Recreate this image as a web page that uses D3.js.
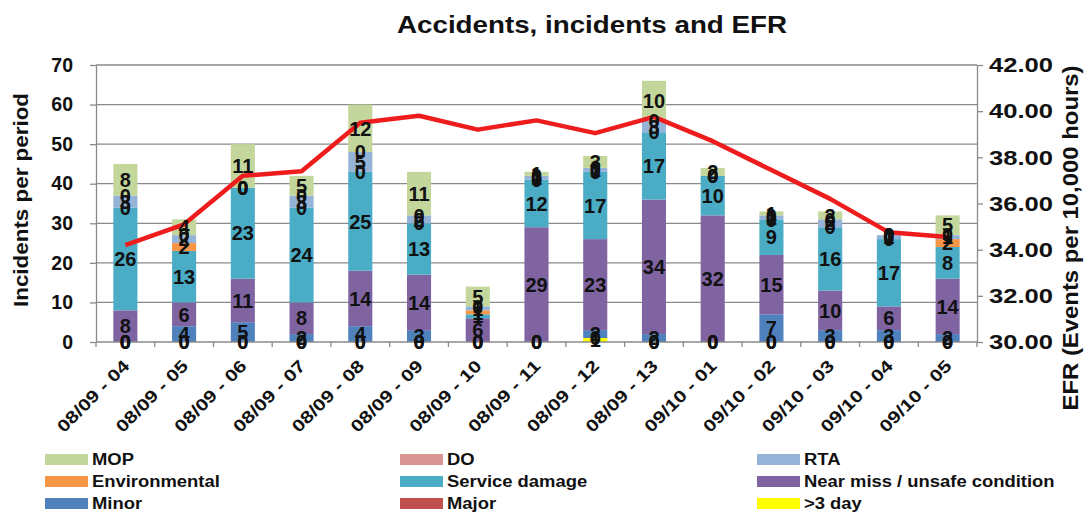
<!DOCTYPE html>
<html>
<head>
<meta charset="utf-8">
<script src="https://cdn.jsdelivr.net/npm/d3@7"></script>
<style>
  html, body { margin: 0; padding: 0; background: #ffffff; }
  svg { display: block; }
  text { font-family: "Liberation Sans", Arial, sans-serif; font-weight: bold; fill: #111; }
</style>
</head>
<body>
<svg id="chart" width="1086" height="519"></svg>
<script>
// ---------------- DATA ----------------
const categories = ["08/09 - 04", "08/09 - 05", "08/09 - 06", "08/09 - 07", "08/09 - 08",
  "08/09 - 09", "08/09 - 10", "08/09 - 11", "08/09 - 12", "08/09 - 13",
  "09/10 - 01", "09/10 - 02", "09/10 - 03", "09/10 - 04", "09/10 - 05"];

// stacked series, bottom to top
const threeDay      = [0, 0, 0, 0, 0, 0, 0, 0, 1, 0, 0, 0, 0, 0, 0];
const major         = [0, 0, 0, 0, 0, 0, 0, 0, 0, 0, 0, 0, 0, 0, 0];
const minor         = [0, 4, 5, 2, 4, 3, 0, 0, 2, 2, 0, 7, 3, 3, 2];
const nearMiss      = [8, 6, 11, 8, 14, 14, 6, 29, 23, 34, 32, 15, 10, 6, 14];
const serviceDamage = [26, 13, 23, 24, 25, 13, 1, 12, 17, 17, 10, 9, 16, 17, 8];
const environmental = [0, 2, 0, 0, 0, 0, 1, 0, 0, 0, 0, 0, 0, 0, 2];
const rta           = [3, 2, 0, 3, 5, 2, 1, 1, 1, 3, 0, 1, 2, 1, 1];
const doValues      = [0, 0, 0, 0, 0, 0, 0, 0, 0, 0, 0, 0, 0, 0, 0];
const mop           = [8, 4, 11, 5, 12, 11, 5, 1, 3, 10, 2, 1, 2, 0, 5];

// line series (right axis)
const efr = [34.2, 35.1, 37.2, 37.4, 39.5, 39.8, 39.2, 39.6, 39.05, 39.75, 38.7, 37.45, 36.2, 34.75, 34.55];

const leftTicks  = [0, 10, 20, 30, 40, 50, 60, 70];
const rightTicks = [30, 32, 34, 36, 38, 40, 42];

const seriesNames = [">3 day", "Major", "Minor", "Near miss / unsafe condition", "Service damage",
  "Environmental", "RTA", "DO", "MOP"];
const seriesValues = [threeDay, major, minor, nearMiss, serviceDamage, environmental, rta, doValues, mop];
const seriesColors = ["#ffff00", "#c0504d", "#4f81bd", "#8064a2", "#4bacc6",
  "#f79646", "#95b3d7", "#d99694", "#c3d69b"];

const legendRows = [["MOP", "DO", "RTA"],
  ["Environmental", "Service damage", "Near miss / unsafe condition"],
  ["Minor", "Major", ">3 day"]];

// ---------------- CHART ----------------
const svg = d3.select("#chart");
const L = 96, R = 977, T = 65, B = 342;

const x = d3.scaleBand().domain(categories).range([L, R]).paddingInner(0.59).paddingOuter(0.295);
const y = d3.scaleLinear().domain([0, 70]).range([B, T]);
const y2 = d3.scaleLinear().domain([30, 42]).range([B, T]);
const colorOf = d3.scaleOrdinal().domain(seriesNames).range(seriesColors);

const table = categories.map((c, i) => {
  const row = { cat: c };
  seriesNames.forEach((s, k) => row[s] = seriesValues[k][i]);
  return row;
});
const stacked = d3.stack().keys(seriesNames)(table);

// gridlines
svg.append("g").selectAll("line").data(leftTicks.filter(t => t > 0)).join("line")
  .attr("x1", L).attr("x2", R).attr("y1", d => y(d)).attr("y2", d => y(d))
  .attr("stroke", "#8a8a8a").attr("stroke-width", 1.3);

// bars
const gBars = svg.append("g");
stacked.forEach(layer => {
  gBars.append("g").attr("fill", colorOf(layer.key)).selectAll("rect").data(layer).join("rect")
    .attr("x", d => x(d.data.cat))
    .attr("width", x.bandwidth())
    .attr("y", d => y(d[1]))
    .attr("height", d => Math.max(0, y(d[0]) - y(d[1])));
});

// axes
const axisStyle = g => {
  g.selectAll("path.domain").attr("stroke", "#8a8a8a").attr("stroke-width", 1.3);
  g.selectAll(".tick line").attr("stroke", "#8a8a8a").attr("stroke-width", 1.3);
};
svg.append("g").attr("transform", `translate(${L},0)`)
  .call(d3.axisLeft(y).tickValues(leftTicks).tickSize(6).tickSizeOuter(0).tickPadding(17))
  .call(axisStyle)
  .call(g => g.selectAll(".tick text").attr("font-size", 19.5).attr("font-family", null)
    .style("font-family", '"Liberation Sans", Arial, sans-serif').attr("fill", "#111"));

svg.append("g").attr("transform", `translate(${R},0)`)
  .call(d3.axisRight(y2).tickValues(rightTicks).tickFormat(d3.format(".2f")).tickSize(6).tickSizeOuter(0).tickPadding(6))
  .call(axisStyle)
  .call(g => g.selectAll(".tick text").attr("font-size", 21).attr("font-family", null)
    .style("font-family", '"Liberation Sans", Arial, sans-serif').attr("fill", "#111")
    .attr("textLength", 64).attr("lengthAdjust", "spacingAndGlyphs"));

// bottom axis with boundary ticks
const step = x.step();
const gx = svg.append("g").attr("transform", `translate(0,${B})`);
gx.append("line").attr("x1", L).attr("x2", R).attr("y1", 0).attr("y2", 0)
  .attr("stroke", "#8a8a8a").attr("stroke-width", 1.3);
gx.selectAll("line.bt").data(d3.range(categories.length + 1)).join("line").attr("class", "bt")
  .attr("x1", i => L + i * step).attr("x2", i => L + i * step).attr("y1", 0).attr("y2", 5)
  .attr("stroke", "#8a8a8a").attr("stroke-width", 1.3);
gx.selectAll("text").data(categories).join("text")
  .attr("transform", d => `translate(${x(d) + x.bandwidth() / 2 + 5},${25}) rotate(-45)`)
  .attr("text-anchor", "end")
  .attr("font-size", 17)
  .attr("textLength", 94).attr("lengthAdjust", "spacingAndGlyphs")
  .text(d => d);

// EFR line
const line = d3.line().x((d, i) => x(categories[i]) + x.bandwidth() / 2).y(d => y2(d));
svg.append("path").datum(efr).attr("d", line)
  .attr("fill", "none").attr("stroke", "#ee1c1c").attr("stroke-width", 4.5)
  .attr("stroke-linejoin", "round");

// data labels
const gLab = svg.append("g");
stacked.forEach(layer => {
  gLab.append("g").selectAll("text").data(layer).join("text")
    .attr("x", d => x(d.data.cat) + x.bandwidth() / 2)
    .attr("y", d => y((d[0] + d[1]) / 2))
    .attr("dy", "0.36em")
    .attr("text-anchor", "middle")
    .attr("font-size", 20)
    .text(d => d.data[layer.key]);
});

// title
svg.append("text").attr("x", 592).attr("y", 33).attr("text-anchor", "middle")
  .attr("font-size", 24).attr("textLength", 390).attr("lengthAdjust", "spacingAndGlyphs")
  .text("Accidents, incidents and EFR");

// axis titles
svg.append("text").attr("transform", "translate(28,200) rotate(-90)").attr("text-anchor", "middle")
  .attr("font-size", 21).attr("textLength", 214).attr("lengthAdjust", "spacingAndGlyphs")
  .text("Incidents per period");
svg.append("text").attr("transform", "translate(1078,238) rotate(-90)").attr("text-anchor", "middle")
  .attr("font-size", 22).attr("textLength", 345).attr("lengthAdjust", "spacingAndGlyphs")
  .text("EFR (Events per 10,000 hours)");

// legend
const colX = [45, 400, 757];
const rowY = [459, 481, 503];
const gLeg = svg.append("g");
legendRows.forEach((row, r) => row.forEach((name, c) => {
  gLeg.append("rect").attr("x", colX[c]).attr("y", rowY[r] - 5).attr("width", 43).attr("height", 11)
    .attr("fill", colorOf(name));
  const t = gLeg.append("text").attr("x", colX[c] + 47).attr("y", rowY[r]).attr("dy", "0.36em")
    .attr("font-size", 16).text(name);
  const w = t.node().getComputedTextLength();
  t.attr("textLength", w * 1.15).attr("lengthAdjust", "spacingAndGlyphs");
}));
</script>
</body>
</html>
